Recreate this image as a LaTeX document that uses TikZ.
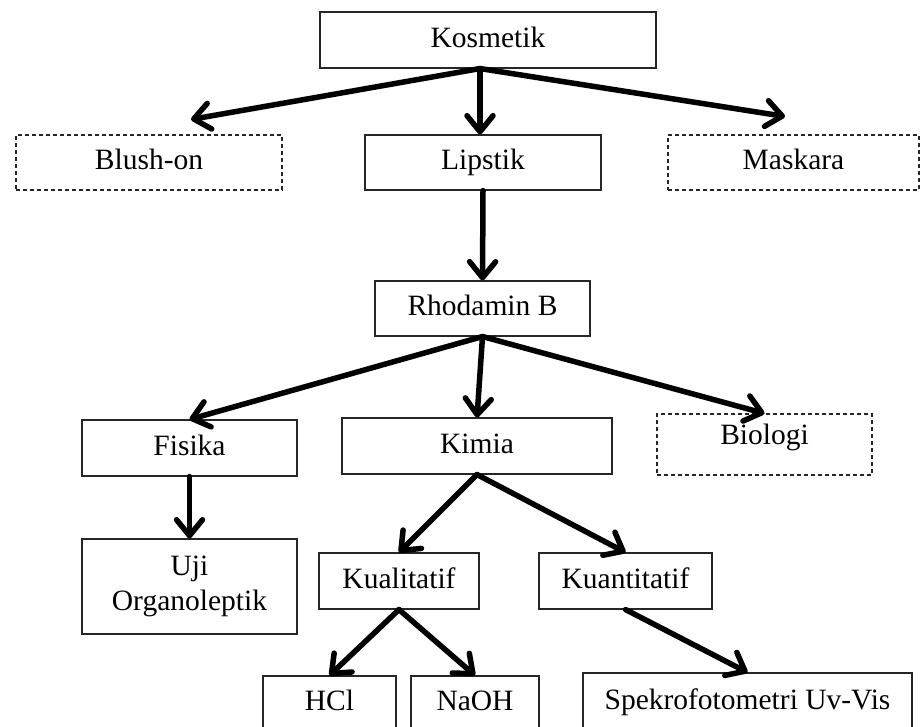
\documentclass[tikz,border=0pt]{standalone}
\usepackage{fontspec}
\setmainfont{Liberation Serif}
\usetikzlibrary{arrows.meta,calc}

\begin{document}
\begin{tikzpicture}[x=1pt,y=-1pt,
  plainbox/.style={draw=black!85,line width=1.1pt,minimum height=55pt,inner sep=2pt,
    font=\fontsize{29.5}{35}\selectfont,align=center},
  box/.style={plainbox,text height=20pt,text depth=6pt},
  dashbox/.style={box,dash pattern=on 4pt off 3pt},
  arr/.style={line width=5.5pt,line cap=round,
    -{Straight Barb[length=16pt,width=26pt,round]}}]
% Fix the page size
\useasboundingbox (0,0) rectangle (921,726);
\clip (0,0) rectangle (921,726);
% Draw the top level
\node[box,minimum width=336pt,minimum height=56pt] (kosmetik) at (488,40) {Kosmetik};
\node[dashbox,minimum width=266pt] (blush) at (149,162.5) {Blush-on};
\node[box,minimum width=236pt] (lipstik) at (483,162.5) {Lipstik};
\node[dashbox,minimum width=251pt] (maskara) at (793.5,162.5) {Maskara};
\coordinate (kosfoot) at ($(kosmetik.south)+(-8,0)$);
\draw[arr] (kosfoot) -- ($(blush.north)+(42,-15)$);
\draw[arr] (kosfoot) -- (kosfoot |- lipstik.north);
\draw[arr] (kosfoot) -- ($(maskara.north)+(-8.5,-18)$);
% Draw the dye and the three kinds of test
\node[box,minimum width=215pt] (rhodamin) at (482.5,308.5) {Rhodamin B};
\draw[arr] (lipstik.south) -- (rhodamin.north);
\node[box,minimum width=215pt,minimum height=56pt] (fisika) at (189.5,448) {Fisika};
\node[box,minimum width=270pt,minimum height=56pt] (kimia) at (477,446) {Kimia};
\node[dashbox,minimum width=215pt,minimum height=61pt,text depth=20pt] (biologi) at (764.5,444.5) {Biologi};
\draw[arr] (rhodamin.south) -- (fisika.north);
\draw[arr] (rhodamin.south) -- (kimia.north);
\draw[arr] (rhodamin.south) -- (biologi.north);
% Draw the physical test
\node[plainbox,minimum width=215pt,minimum height=95pt] (uji) at (189.5,586.5) {Uji\\Organoleptik};
\draw[arr] (fisika.south) -- (uji.north);
% Draw the chemical tests
\node[box,minimum width=160pt,minimum height=56pt] (kualitatif) at (399,581) {Kualitatif};
\node[box,minimum width=173pt,minimum height=56pt] (kuantitatif) at (625.5,581) {Kuantitatif};
\draw[arr] (kimia.south) -- (kualitatif.north);
\draw[arr] (kimia.south) -- (kuantitatif.north);
\node[box,minimum width=133pt,minimum height=54pt] (hcl) at (329.5,703) {HCl};
\node[box,minimum width=128pt,minimum height=54pt] (naoh) at (475,703) {NaOH};
\node[box,minimum width=329pt,minimum height=58pt] (spektro) at (747.5,702) {Spekrofotometri Uv-Vis};
\draw[arr] (kualitatif.south) -- (hcl.north);
\draw[arr] (kualitatif.south) -- (naoh.north);
\draw[arr] (kuantitatif.south) -- (spektro.north);
\end{tikzpicture}
\end{document}
